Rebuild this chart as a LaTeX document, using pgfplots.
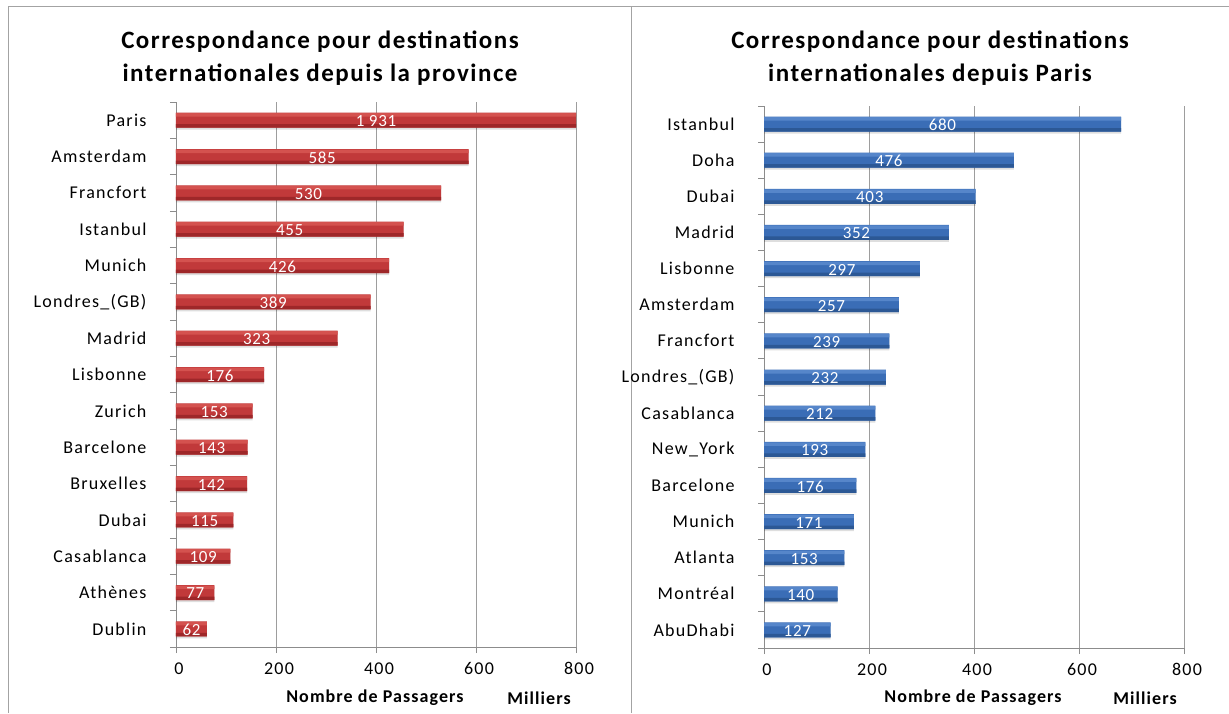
\documentclass[border=0pt]{standalone}
\usepackage{fontspec}
\setmainfont{Carlito}
\usepackage{pgfplots}
\usepackage{pgfplotstable}
\pgfplotsset{compat=1.18}
\definecolor{redT}{HTML}{D4524F}
\definecolor{redM}{HTML}{C1393A}
\definecolor{redB}{HTML}{9E2729}
\definecolor{bluT}{HTML}{5686CA}
\definecolor{bluM}{HTML}{3A6DB6}
\definecolor{bluB}{HTML}{2C5895}
\definecolor{axgray}{HTML}{8C8C8C}

\newcommand\ticksfont{\fontsize{18}{21}\selectfont\addfontfeature{LetterSpace=7}}
\newcommand\valfont{\fontsize{17}{20}\selectfont\addfontfeature{LetterSpace=4}}
\newcommand\labfont{\bfseries\fontsize{18}{21}\selectfont\addfontfeature{LetterSpace=6}}
\newcommand\titfont{\bfseries\fontsize{25}{33}\selectfont\addfontfeature{LetterSpace=6}}

\pgfplotstableread{
i v lab
0 1931 {1 931}
1 585 585
2 530 530
3 455 455
4 426 426
5 389 389
6 323 323
7 176 176
8 153 153
9 143 143
10 142 142
11 115 115
12 109 109
13 77 77
14 62 62
}\provdata

\pgfplotstableread{
i v lab
0 680 680
1 476 476
2 403 403
3 352 352
4 297 297
5 257 257
6 239 239
7 232 232
8 212 212
9 193 193
10 176 176
11 171 171
12 153 153
13 140 140
14 127 127
}\parisdata

\pgfplotsset{
  panel/.style={
    scale only axis,
    xmin=0, xmax=800, ymin=-0.5, ymax=14.5,
    y dir=reverse,
    axis x line*=bottom, axis y line*=left,
    axis line style={draw=axgray, line width=0.9pt},
    xtick={0,200,400,600,800},
    ytick={-0.5,0.5,1.5,2.5,3.5,4.5,5.5,6.5,7.5,8.5,9.5,10.5,11.5,12.5,13.5,14.5},
    y tick label as interval,
    tick align=outside,
    major tick length=6pt,
    tick style={draw=axgray, line width=0.9pt},
    xmajorgrids,
    grid style={draw=axgray!85, line width=0.9pt},
    /pgf/number format/assume math mode=true,
    xticklabel style={font=\ticksfont, xshift=3pt, yshift=-6pt},
    yticklabel style={font=\ticksfont, xshift=-20pt},
    clip=true,
  },
  shadowbar/.style={xbar, bar width=15pt, bar shift=-2pt, draw=none, fill=black, fill opacity=0.13},
  basebar/.style={xbar, bar width=15pt, bar shift=0pt, draw=none},
  botbar/.style={xbar, bar width=3.5pt, bar shift=-5.75pt, draw=none},
  topbar/.style={xbar, bar width=3.5pt, bar shift=5.25pt, draw=none},
  vallabels/.style={draw=none, mark=none, nodes near coords,
    point meta=explicit symbolic,
    every node near coord/.append style={anchor=center, text=white,
      font=\valfont, yshift=-1pt}},
}

\begin{document}
\begin{tikzpicture}
\useasboundingbox (0,0) rectangle (1229pt,713pt);
\draw[axgray!80, line width=1pt] (8pt,0pt) -- (8pt,706pt) -- (1229pt,706pt);
\draw[axgray!80, line width=1pt] (631pt,0pt) -- (631pt,706pt);

\node[align=center, font=\titfont] at (320pt,655pt)
  {Correspondance pour destinations\\internationales depuis la province};
\node[align=center, font=\titfont] at (930pt,655pt)
  {Correspondance pour destinations\\internationales depuis Paris};

\begin{axis}[panel, at={(176pt,66pt)}, anchor=south west, width=400pt, height=545pt,
  yticklabels={Paris,Amsterdam,Francfort,Istanbul,Munich,Londres\_(GB),Madrid,Lisbonne,Zurich,Barcelone,Bruxelles,Dubai,Casablanca,Athènes,Dublin}]
\addplot[shadowbar] table[x=v, y=i] {\provdata};
\addplot[basebar, fill=redM] table[x=v, y=i] {\provdata};
\addplot[botbar, fill=redB] table[x=v, y=i] {\provdata};
\addplot[topbar, fill=redT] table[x=v, y=i] {\provdata};
\addplot[vallabels] table[x expr={min(\thisrow{v},800)/2}, y=i, meta=lab] {\provdata};
\end{axis}

\begin{axis}[panel, at={(764pt,65pt)}, anchor=south west, width=420pt, height=542pt,
  yticklabels={Istanbul,Doha,Dubai,Madrid,Lisbonne,Amsterdam,Francfort,Londres\_(GB),Casablanca,New\_York,Barcelone,Munich,Atlanta,Montréal,AbuDhabi}]
\addplot[shadowbar] table[x=v, y=i] {\parisdata};
\addplot[basebar, fill=bluM] table[x=v, y=i] {\parisdata};
\addplot[botbar, fill=bluB] table[x=v, y=i] {\parisdata};
\addplot[topbar, fill=bluT] table[x=v, y=i] {\parisdata};
\addplot[vallabels] table[x expr={min(\thisrow{v},800)/2}, y=i, meta=lab] {\parisdata};
\end{axis}

\node[font=\labfont] at (375pt,15pt) {Nombre de Passagers};
\node[font=\labfont] at (539pt,15pt) {Milliers};
\node[font=\labfont] at (973pt,15pt) {Nombre de Passagers};
\node[font=\labfont] at (1145pt,15pt) {Milliers};
\end{tikzpicture}
\end{document}
